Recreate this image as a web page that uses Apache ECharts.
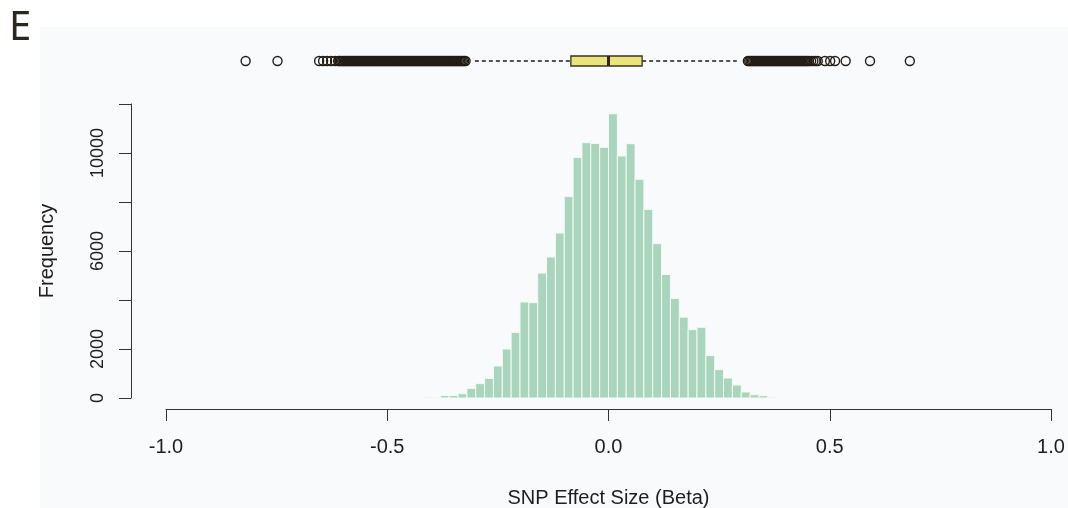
<!DOCTYPE html>
<html><head><meta charset="utf-8">
<script src="https://cdn.jsdelivr.net/npm/echarts@6/dist/echarts.min.js"></script>
<style>html,body{margin:0;padding:0;background:#fff}#c{width:1068px;height:508px}</style>
</head><body><div id="c"></div><script>
// ---- data ----
const binStarts = [-0.42,-0.40,-0.38,-0.36,-0.34,-0.32,-0.30,-0.28,-0.26,-0.24,-0.22,-0.20,-0.18,-0.16,-0.14,-0.12,-0.10,-0.08,-0.06,-0.04,-0.02,
  0.00,0.02,0.04,0.06,0.08,0.10,0.12,0.14,0.16,0.18,0.20,0.22,0.24,0.26,0.28,0.30,0.32,0.34,0.36];
const binWidth = 0.02;
const binCounts = [30,25,100,100,175,395,585,800,1305,2000,2680,3920,3890,5100,5755,6735,8220,9820,10420,10390,10230,
  11600,9880,10380,8925,7700,6300,5040,4065,3300,2790,2885,1730,1160,815,530,245,135,95,30];
const xTicks = ['-1.0','-0.5','0.0','0.5','1.0'];
const yTickLabels = [0,2000,6000,10000];
const boxQuartiles = [-0.085, 0.0, 0.076];   // Q1, median, Q3
const whiskerEnds = [-0.302, 0.290];
const outliersLeft = [-0.820,-0.748,-0.654,-0.645,-0.636,-0.627,-0.618,
  -0.611,-0.608,-0.605,-0.602,-0.599,-0.596,-0.593,-0.590,-0.587,-0.584,-0.581,-0.578,-0.575,-0.572,-0.569,-0.566,-0.563,-0.560,
  -0.557,-0.554,-0.551,-0.548,-0.545,-0.542,-0.539,-0.536,-0.533,-0.530,-0.527,-0.524,-0.521,-0.518,-0.515,-0.512,-0.509,-0.506,
  -0.503,-0.500,-0.497,-0.494,-0.491,-0.488,-0.485,-0.482,-0.479,-0.476,-0.473,-0.470,-0.467,-0.464,-0.461,-0.458,-0.455,-0.452,
  -0.449,-0.446,-0.443,-0.440,-0.437,-0.434,-0.431,-0.428,-0.425,-0.422,-0.419,-0.416,-0.413,-0.410,-0.407,-0.404,-0.401,-0.398,
  -0.395,-0.392,-0.389,-0.386,-0.383,-0.380,-0.377,-0.374,-0.371,-0.368,-0.365,-0.362,-0.359,-0.356,-0.353,-0.350,-0.347,-0.344,
  -0.341,-0.338,-0.335,-0.332,-0.329,-0.326,-0.323];
const outliersRight = [0.315,0.318,0.321,0.324,0.327,0.330,0.333,0.336,0.339,0.342,0.345,0.348,0.351,0.354,0.357,0.360,0.363,
  0.366,0.369,0.372,0.375,0.378,0.381,0.384,0.387,0.390,0.393,0.396,0.399,0.402,0.405,0.408,0.411,0.414,0.417,0.420,0.423,0.426,
  0.429,0.432,0.435,0.438,0.441,0.444,0.447,0.450,0.453,0.458,0.463,0.468,0.473,0.489,0.501,0.512,0.536,0.591,0.681];

// ---- chart ----
const FONT = "'Liberation Sans', Arial, sans-serif";
const histData = binStarts.map((s, i) => [s, s + binWidth, binCounts[i]]);
const outlierData = outliersLeft.concat(outliersRight).map(v => [v, 0.5]);

const chart = echarts.init(document.getElementById('c'), null, {renderer: 'canvas'});
chart.setOption({
  animation: false,
  backgroundColor: '#ffffff',
  graphic: [
    {type: 'rect', left: 40, top: 27, shape: {width: 1028, height: 481}, style: {fill: '#f9fafc'}, z: -10, silent: true},
    {type: 'text', left: 9, top: 9, style: {text: 'E', fontSize: 40, fontWeight: 'normal', fontFamily: "'Noto Sans', sans-serif", fill: '#2b2620'}}
  ],
  grid: [
    {left: 166, right: 17, top: 104, bottom: 110, outerBoundsMode: 'none', containLabel: false},
    {left: 166, right: 17, top: 41, height: 40, outerBoundsMode: 'none', containLabel: false}
  ],
  xAxis: [
    {type: 'value', gridIndex: 0, min: -1, max: 1, interval: 0.5, offset: 11,
     name: 'SNP Effect Size (Beta)', nameLocation: 'middle', nameGap: 79,
     nameTextStyle: {fontFamily: FONT, fontSize: 20, color: '#1e1e1e'},
     axisLine: {show: true, onZero: false, lineStyle: {color: '#333', width: 1}},
     axisTick: {show: true, length: 12, lineStyle: {color: '#333', width: 1}},
     axisLabel: {margin: 28, fontFamily: FONT, fontSize: 20, color: '#1e1e1e',
       formatter: v => xTicks[Math.round((v + 1) / 0.5)]},
     splitLine: {show: false}},
    {type: 'value', gridIndex: 1, min: -1, max: 1, show: false}
  ],
  yAxis: [
    {type: 'value', gridIndex: 0, min: 0, max: 12000, interval: 2000, offset: 35,
     name: 'Frequency', nameLocation: 'middle', nameGap: 74, nameRotate: 90,
     nameTextStyle: {fontFamily: FONT, fontSize: 20, color: '#1e1e1e'},
     axisLine: {show: true, onZero: false, lineStyle: {color: '#333', width: 1}},
     axisTick: {show: true, length: 12, lineStyle: {color: '#333', width: 1}},
     axisLabel: {rotate: 90, margin: 24, fontFamily: FONT, fontSize: 18, color: '#1e1e1e',
       formatter: v => yTickLabels.indexOf(v) >= 0 ? String(v) : ''},
     splitLine: {show: false}},
    {type: 'value', gridIndex: 1, min: 0, max: 1, show: false}
  ],
  series: [
    {type: 'custom', xAxisIndex: 0, yAxisIndex: 0, data: histData,
     encode: {x: [0, 1], y: 2},
     renderItem: function (params, api) {
       const p0 = api.coord([api.value(0), api.value(2)]);
       const p1 = api.coord([api.value(1), 0]);
       return {type: 'rect', shape: {x: p0[0], y: p0[1], width: p1[0] - p0[0], height: p1[1] - p0[1]},
         style: {fill: '#a8d5bb', stroke: '#f4f9f7', lineWidth: 1}};
     }},
    {type: 'custom', xAxisIndex: 1, yAxisIndex: 1, data: [[whiskerEnds[0], boxQuartiles[0], boxQuartiles[1], boxQuartiles[2], whiskerEnds[1]]],
     encode: {x: [0, 1, 2, 3, 4]},
     renderItem: function (params, api) {
       const y = api.coord([0, 0.5])[1];
       const xs = [0, 1, 2, 3, 4].map(i => api.coord([api.value(i), 0.5])[0]);
       const h = 5;
       return {type: 'group', children: [
         {type: 'line', shape: {x1: xs[0], y1: y, x2: xs[1], y2: y}, style: {stroke: '#1e1a14', lineWidth: 1.5, lineDash: [4, 3]}},
         {type: 'line', shape: {x1: xs[3], y1: y, x2: xs[4], y2: y}, style: {stroke: '#1e1a14', lineWidth: 1.5, lineDash: [4, 3]}},
         {type: 'rect', shape: {x: xs[1], y: y - h, width: xs[3] - xs[1], height: 2 * h}, style: {fill: '#ebe47b', stroke: '#3b3322', lineWidth: 1.3}},
         {type: 'line', shape: {x1: xs[2], y1: y - h, x2: xs[2], y2: y + h}, style: {stroke: '#2b2418', lineWidth: 3}}
       ]};
     }},
    {type: 'scatter', xAxisIndex: 1, yAxisIndex: 1, data: outlierData, symbol: 'circle', symbolSize: 9,
     itemStyle: {color: 'rgba(0,0,0,0)', borderColor: '#231d16', borderWidth: 1.4, opacity: 1}}
  ]
});
</script></body></html>
